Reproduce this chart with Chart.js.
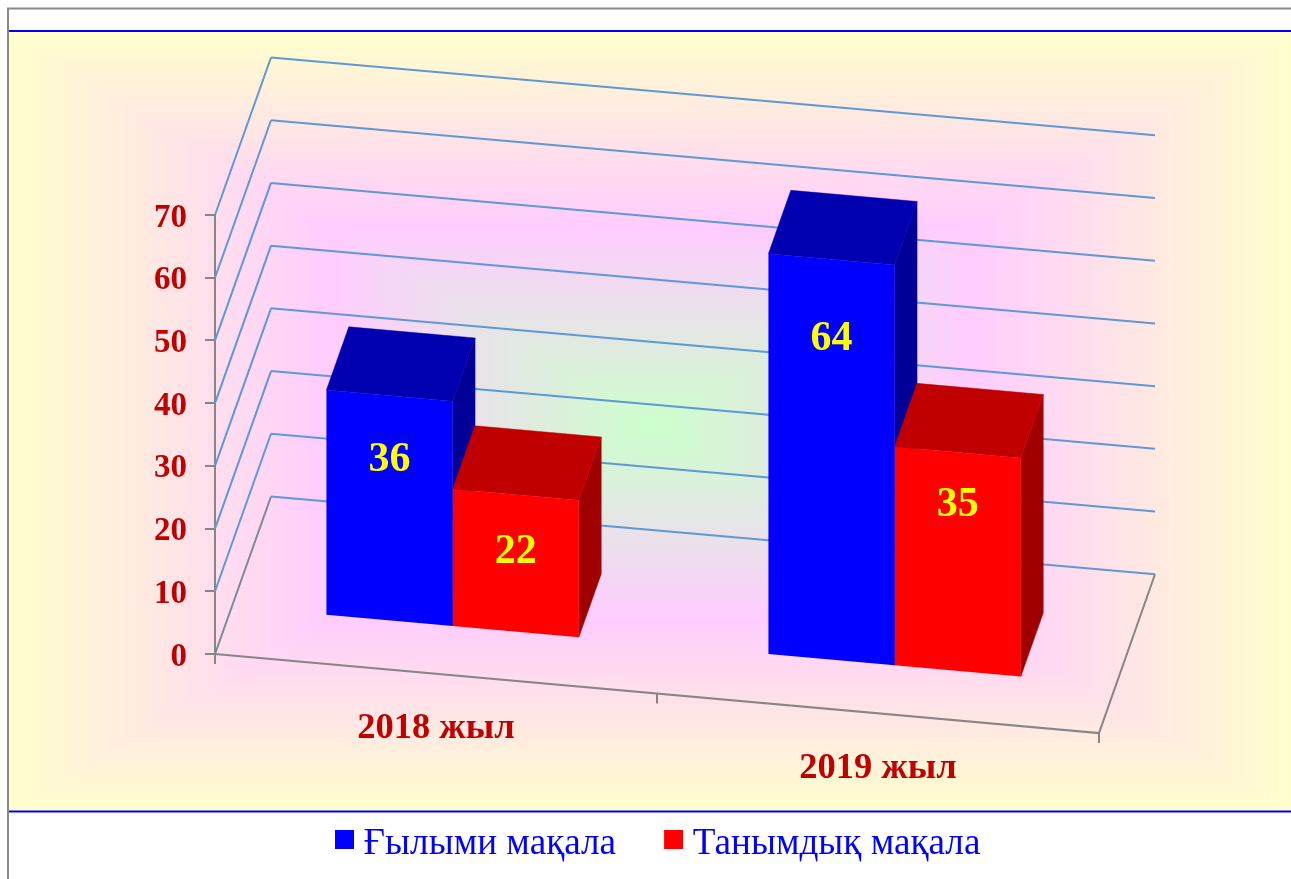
<!DOCTYPE html>
<html><head><meta charset="utf-8">
<style>html,body{margin:0;padding:0;background:#fff}canvas{display:block}</style>
<script src="https://cdn.jsdelivr.net/npm/chart.js@4"></script>
</head><body><canvas id="c" width="1291" height="879"></canvas>
<script>
const categories = ['2018 жыл', '2019 жыл'];
const seriesNames = ['Ғылыми мақала', 'Танымдық мақала'];
const sciArticles = [36, 64];
const popArticles = [22, 35];
const yTicks = [0, 10, 20, 30, 40, 50, 60, 70];

// drawing constants
const SERIF = '"Liberation Serif","Times New Roman",serif';
const DX = 56, DY = 157.5, SHEAR_F = 0.0895, SHEAR_B = 0.088, D1 = 0.297, D2 = 0.697;
const labelDrop = [[65, 80], [58, 53]];
const faces = [{top:'#0000b0', side:'#000099'}, {top:'#c00000', side:'#a00000'}];
const GRID = '#5f98d6', AXIS = '#868686';
const LEGEND_PAD = 39, LEGEND_GAP = 9, LEGEND_DROP = 5;

const shear = d => SHEAR_F + d * (SHEAR_B - SHEAR_F);
function proj(chart, x, y, d) {
  return [x + DX * d, y + shear(d) * (x - chart.chartArea.left) - DY * d];
}
function line(ctx, pts, color, w) {
  ctx.beginPath();
  pts.forEach((p, i) => i ? ctx.lineTo(p[0], p[1]) : ctx.moveTo(p[0], p[1]));
  ctx.strokeStyle = color; ctx.lineWidth = w; ctx.stroke();
}
function poly(ctx, pts, color) {
  ctx.beginPath();
  pts.forEach((p, i) => i ? ctx.lineTo(p[0], p[1]) : ctx.moveTo(p[0], p[1]));
  ctx.closePath(); ctx.fillStyle = color; ctx.fill();
  ctx.strokeStyle = color; ctx.lineWidth = 0.5; ctx.stroke();
}
function backdrop(ctx, w, h) {
  const L = 8, T = 32, R = w, B = 811, cx = (L + R) / 2 + 4, cy = (T + B) / 2 + 4;
  const stops = g => { g.addColorStop(0, '#ffffcc'); g.addColorStop(0.5, '#ffccff'); g.addColorStop(1, '#ccffcc'); return g; };
  ctx.fillStyle = '#fff'; ctx.fillRect(0, 0, w, h);
  const tri = (a, b, g) => {
    ctx.save(); ctx.beginPath(); ctx.moveTo(cx, cy); ctx.lineTo(a[0], a[1]); ctx.lineTo(b[0], b[1]); ctx.closePath();
    ctx.fillStyle = stops(g); ctx.fill(); ctx.strokeStyle = ctx.fillStyle; ctx.lineWidth = 1; ctx.stroke(); ctx.restore();
  };
  ctx.save(); ctx.beginPath(); ctx.rect(L, T, R - L, B - T); ctx.clip();
  tri([L, T], [R, T], ctx.createLinearGradient(0, T, 0, cy));
  tri([L, B], [R, B], ctx.createLinearGradient(0, B, 0, cy));
  tri([L, T], [L, B], ctx.createLinearGradient(L, 0, cx, 0));
  tri([R, T], [R, B], ctx.createLinearGradient(R, 0, cx, 0));
  ctx.restore();
  line(ctx, [[w, 8.5], [8, 8.5], [8, h]], '#8a8a8a', 2);
  line(ctx, [[9, 31], [w, 31]], '#0000ff', 2);
  line(ctx, [[9, 811.5], [w, 811.5]], '#0000ff', 2);
}

const scene = {
  id: 'scene',
  beforeDraw(chart) { backdrop(chart.ctx, chart.width, chart.height); },
  afterLayout(chart) {
    const l = chart.legend;
    l.left = 335 - LEGEND_PAD; l.right = chart.width;
    const h = l.bottom - l.top, top = 821 - LEGEND_PAD; l.top = top; l.bottom = top + h;
    if (!l._wrapped) {
      l._wrapped = true;
      const orig = l.draw.bind(l);
      l.draw = function () {
        const c = chart.ctx, ft = c.fillText;
        c.fillText = function (t, x, y, m) {
          return m === undefined ? ft.call(c, t, x - LEGEND_GAP, y + LEGEND_DROP) : ft.call(c, t, x - LEGEND_GAP, y + LEGEND_DROP, m);
        };
        orig();
        delete c.fillText;
      };
    }
  },
  beforeDatasetsDraw(chart) {
    const ctx = chart.ctx, a = chart.chartArea, y = chart.scales.y, x = chart.scales.x;
    // walls + floor, positioned from the value scale
    yTicks.forEach(v => {
      const py = y.getPixelForValue(v);
      const isFloor = v === yTicks[0];
      line(ctx, [proj(chart, a.left, py, 0), proj(chart, a.left, py, 1)], isFloor ? '#7a8a9a' : GRID, 2);
      line(ctx, [proj(chart, a.left, py, 1), proj(chart, a.right, py, 1)], GRID, 2);
    });
    const base = y.getPixelForValue(0);
    line(ctx, [proj(chart, a.right, base, 1), proj(chart, a.right, base, 0), proj(chart, a.left, base, 0)], AXIS, 2);
    const half = x.getPixelForTick(0) - a.left;
    [a.left, x.getPixelForTick(0) + half, a.right].forEach(px => {
      const p = proj(chart, px, base, 0);
      line(ctx, [p, [p[0], p[1] + 10]], AXIS, 2);
    });
    // top and side faces of every bar
    const n = chart.data.labels.length;
    for (let i = 0; i < n; i++) {
      chart.data.datasets.forEach((ds, di) => {
        const el = chart.getDatasetMeta(di).data[i];
        const l = el.x - el.width / 2, r = el.x + el.width / 2;
        const P = (px, py, d) => proj(chart, px, py, d);
        poly(ctx, [P(r, el.y, D1), P(r, el.y, D2), P(r, el.base, D2), P(r, el.base, D1)], faces[di].side);
        poly(ctx, [P(l, el.y, D1), P(l, el.y, D2), P(r, el.y, D2), P(r, el.y, D1)], faces[di].top);
      });
    }
    // front faces are the library's own bars, sheared into the 3D plane
    ctx.save();
    const s = shear(D1);
    ctx.transform(1, s, 0, 1, DX * D1, -s * a.left - DY * D1);
  },
  afterDatasetsDraw(chart) {
    const ctx = chart.ctx, y = chart.scales.y, x = chart.scales.x;
    ctx.restore();
    ctx.textAlign = 'center'; ctx.textBaseline = 'middle';
    ctx.font = 'bold 42px ' + SERIF; ctx.fillStyle = '#ffff00';
    chart.data.datasets.forEach((ds, di) => {
      chart.getDatasetMeta(di).data.forEach((el, i) => {
        const p = proj(chart, el.x, el.y, D1);
        ctx.fillText(String(ds.data[i]), p[0], p[1] + labelDrop[di][i]);
      });
    });
    ctx.font = 'bold 36.5px ' + SERIF; ctx.fillStyle = '#c00000';
    categories.forEach((c, i) => {
      const px = x.getPixelForTick(i);
      const p = proj(chart, px, y.getPixelForValue(0), 0);
      ctx.fillText(c, p[0], p[1] + 55);
    });
  }
};

new Chart(document.getElementById('c'), {
  type: 'bar',
  plugins: [scene],
  data: {
    labels: categories,
    datasets: [
      { label: seriesNames[0], data: sciArticles, backgroundColor: '#0000ff', borderWidth: 0 },
      { label: seriesNames[1], data: popArticles, backgroundColor: '#ff0000', borderWidth: 0 }
    ]
  },
  options: {
    responsive: false, animation: false,
    layout: { padding: { left: 0, top: 215, right: 192, bottom: 0 } },
    categoryPercentage: 0.571, barPercentage: 1,
    plugins: {
      tooltip: { enabled: false },
      legend: {
        position: 'bottom', align: 'start',
        labels: {
          color: '#0000ff', boxWidth: 19, boxHeight: 19, padding: LEGEND_PAD,
          font: { family: SERIF, size: 37.2 }
        }
      }
    },
    scales: {
      x: {
        grid: { display: false }, border: { display: false },
        ticks: { display: false },
        afterFit(s) { s.height = 225 - s.chart.legend.height; }
      },
      y: {
        min: 0, max: 70,
        afterFit(s) { s.width = 215; },
        afterBuildTicks(s) { s.ticks = yTicks.map(v => ({ value: v })); },
        border: { color: AXIS, width: 2 },
        grid: { drawOnChartArea: false, color: AXIS, lineWidth: 2, tickLength: 10 },
        ticks: { color: '#c00000', padding: 18, labelOffset: 3, font: { family: SERIF, size: 33, weight: 'bold' } }
      }
    }
  }
});
</script></body></html>
